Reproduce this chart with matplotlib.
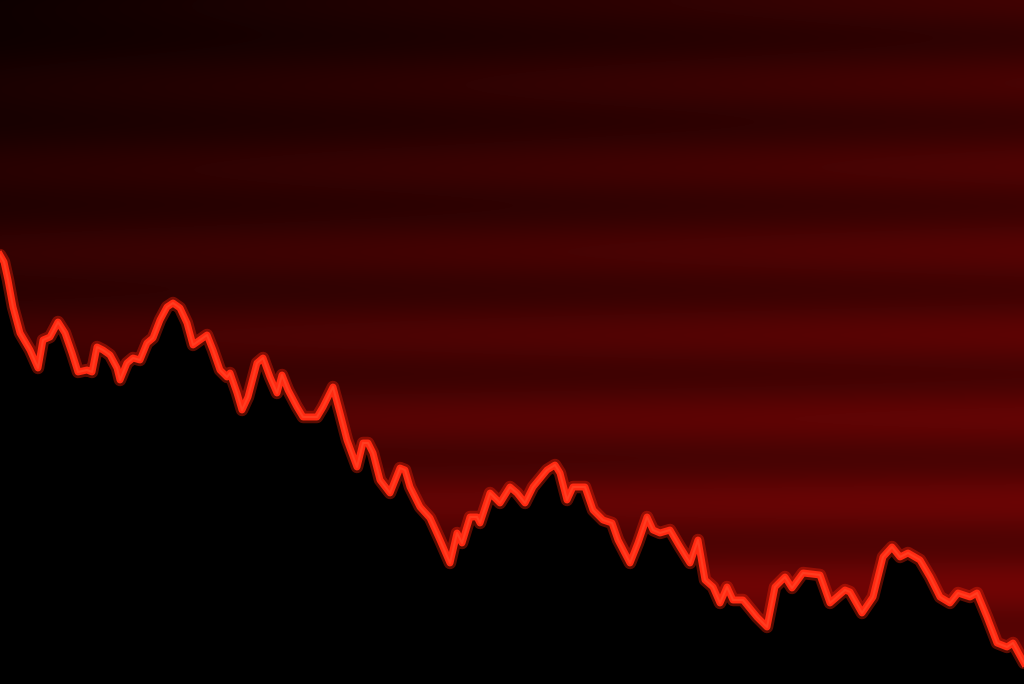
import numpy as np
import matplotlib
matplotlib.use("Agg")
import matplotlib.pyplot as plt

# sample positions along the time axis
t = [0, 4, 8, 13, 20, 30, 38, 43, 50, 58,
     65, 72, 78, 87, 92, 97, 103, 110, 117, 120,
     127, 133, 140, 147, 153, 160, 167, 173, 180, 187,
     193, 200, 207, 213, 220, 227, 230, 237, 242, 248,
     257, 263, 270, 277, 282, 288, 297, 303, 317, 323,
     333, 340, 347, 357, 363, 368, 373, 380, 390, 400,
     405, 410, 420, 430, 440, 450, 457, 462, 470, 477,
     480, 490, 500, 510, 517, 525, 533, 547, 555, 560,
     567, 573, 585, 593, 603, 612, 618, 630, 638, 647,
     653, 660, 670, 680, 690, 698, 705, 713, 720, 727,
     733, 743, 757, 767, 775, 785, 792, 803, 820, 830,
     845, 850, 862, 873, 883, 892, 900, 908, 920, 930,
     940, 950, 958, 970, 977, 987, 997, 1007, 1013, 1024]

# depth of the line (axis is inverted, bigger = lower)
depth = [255, 262, 280, 307, 333, 350, 368, 340, 337, 322,
         333, 353, 372, 370, 372, 347, 350, 355, 368, 380,
         363, 358, 360, 343, 338, 320, 307, 303, 308, 323,
         345, 340, 335, 350, 370, 377, 373, 393, 410, 397,
         363, 358, 377, 393, 375, 390, 407, 417, 417, 407,
         387, 413, 440, 467, 443, 443, 453, 480, 493, 468,
         470, 487, 507, 518, 540, 563, 533, 543, 517, 517,
         523, 493, 503, 487, 493, 503, 487, 470, 465, 473,
         500, 487, 487, 510, 520, 523, 540, 563, 543, 517,
         530, 533, 530, 547, 563, 540, 580, 587, 603, 587,
         600, 600, 617, 627, 587, 577, 588, 573, 575, 603,
         590, 592, 613, 597, 557, 547, 557, 553, 560, 577,
         597, 603, 593, 597, 593, 617, 643, 647, 643, 663]

W, H = 1024, 684

fig = plt.figure(figsize=(W / 100, H / 100), dpi=100)
ax = fig.add_axes([0, 0, 1, 1])

# glowing red screen background with soft horizontal bands
yy, xx = np.mgrid[0:H, 0:W]
fy = yy / H
fx = xx / W
level = 0.32 + 0.55 * fy + 0.15 * fx * (1 - fy) - 0.22 * (1 - fx) * (1 - fy)
level *= 1 + 0.15 * np.sin(2 * np.pi * (yy - 60) / 84)
level = np.clip(level, 0, 1)
bg = np.zeros((H, W, 3))
bg[..., 0] = 0.47 * level
bg[..., 1] = 0.02 * level
bg[..., 2] = 0.02 * level
ax.imshow(bg, extent=[0, W, H, 0], aspect="auto", zorder=0)

ax.fill_between(t, depth, H, color="black", zorder=2)
ax.plot(t, depth, color="#ff2408", lw=9, alpha=0.35, zorder=3,
        solid_joinstyle="round", solid_capstyle="round")
ax.plot(t, depth, color="#ff2a12", lw=5, zorder=4, solid_joinstyle="round")
ax.plot(t, depth, color="#ff4a2a", lw=1.5, alpha=0.6, zorder=5, solid_joinstyle="round")

ax.set_xlim(0, W)
ax.set_ylim(H, 0)
ax.axis("off")

fig.savefig("out.png", dpi=100)
